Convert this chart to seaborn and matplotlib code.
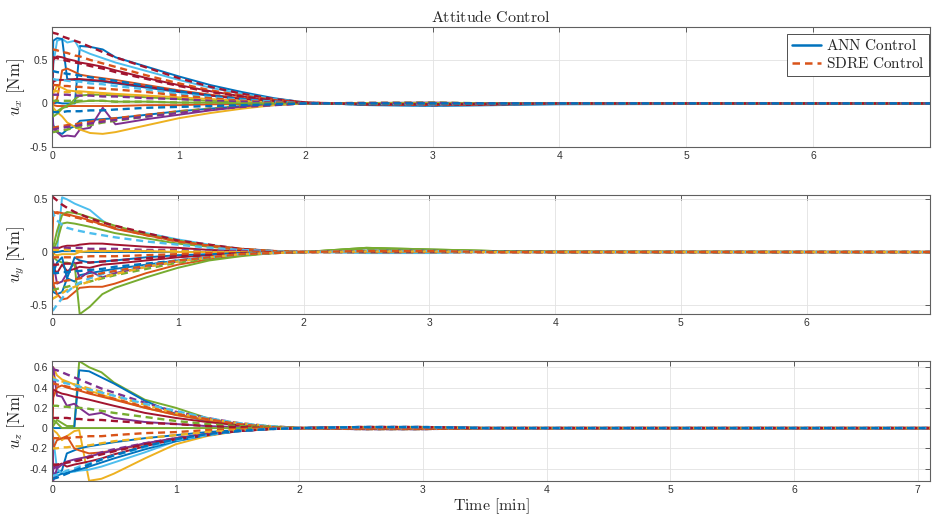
import matplotlib
matplotlib.use("Agg")
import matplotlib.pyplot as plt
from matplotlib.lines import Line2D
import seaborn as sns

# ---------------- data ----------------
T = [0, 0.01, 0.04, 0.08, 0.12, 0.18, 0.22, 0.3, 0.4, 0.5, 0.75, 1.0, 1.25,
     1.5, 1.75, 2.0, 2.5, 3.0, 3.5, 4.0, 7.2]

COL = {"B": "#0072BD", "O": "#D95319", "Y": "#EDB120", "P": "#7E2F8E",
       "G": "#77AC30", "C": "#4DBEEE", "R": "#A2142F"}

# ---- u_x ----
ux_ann_colors = ["B", "C", "B", "R", "O", "R", "G", "Y", "O", "B", "P", "Y", "G"]
ux_ann = [
    [0.0, 0.0, 0.01, 0.0, 0.0, 0.0, 0.66, 0.65, 0.62, 0.53, 0.42, 0.31, 0.21, 0.13, 0.06, 0.01, -0.02, -0.03, -0.02, -0.01, 0.0],
    [0.0, 0.45, 0.72, 0.74, 0.70, 0.72, 0.62, 0.57, 0.52, 0.47, 0.37, 0.27, 0.18, 0.11, 0.05, 0.01, -0.015, -0.025, -0.015, 0.0, 0.0],
    [0.0, 0.72, 0.75, 0.74, 0.28, 0.27, 0.27, 0.26, 0.25, 0.23, 0.18, 0.13, 0.09, 0.05, 0.02, 0.0, -0.01, -0.02, -0.01, 0.0, 0.0],
    [0.0, 0.50, 0.54, 0.53, 0.51, 0.49, 0.47, 0.45, 0.42, 0.38, 0.29, 0.21, 0.14, 0.08, 0.03, 0.005, -0.01, -0.015, -0.01, 0.0, 0.0],
    [0.0, 0.0, 0.05, 0.38, 0.40, 0.36, 0.33, 0.31, 0.29, 0.27, 0.21, 0.15, 0.10, 0.06, 0.02, 0.0, -0.01, -0.01, 0.0, 0.0, 0.0],
    [0.0, 0.25, 0.27, 0.27, 0.27, 0.28, 0.28, 0.27, 0.26, 0.24, 0.19, 0.14, 0.09, 0.05, 0.02, 0.0, -0.005, -0.01, 0.0, 0.0, 0.0],
    [0.0, -0.10, -0.09, -0.05, -0.04, 0.05, 0.09, 0.10, 0.10, 0.09, 0.07, 0.05, 0.03, 0.02, 0.01, 0.0, 0.0, -0.005, 0.0, 0.0, 0.0],
    [0.0, 0.12, 0.20, 0.18, 0.15, 0.14, 0.14, 0.13, 0.12, 0.11, 0.09, 0.07, 0.05, 0.03, 0.01, 0.0, 0.0, 0.0, 0.0, 0.0, 0.0],
    [0.0, -0.02, -0.03, -0.03, -0.03, -0.03, -0.03, -0.03, -0.03, -0.03, -0.02, -0.02, -0.01, -0.01, 0.0, 0.0, 0.0, 0.0, 0.0, 0.0, 0.0],
    [0.0, -0.25, -0.33, -0.35, -0.30, -0.26, -0.20, -0.19, -0.18, -0.17, -0.13, -0.09, -0.06, -0.03, -0.01, 0.0, 0.005, 0.005, 0.0, 0.0, 0.0],
    [0.0, -0.28, -0.33, -0.38, -0.37, -0.38, -0.30, -0.28, -0.05, -0.24, -0.18, -0.13, -0.08, -0.04, -0.02, 0.0, 0.005, 0.01, 0.0, 0.0, 0.0],
    [0.0, -0.05, -0.10, -0.15, -0.22, -0.27, -0.30, -0.34, -0.35, -0.33, -0.25, -0.17, -0.11, -0.06, -0.02, 0.0, 0.005, 0.005, 0.0, 0.0, 0.0],
    [0.0, -0.15, -0.12, -0.06, -0.02, 0.01, 0.02, 0.03, 0.03, 0.02, 0.02, 0.01, 0.01, 0.0, 0.0, 0.0, 0.0, 0.0, 0.0, 0.0, 0.0],
]
ux_sdre_colors = ["R", "O", "R", "B", "C", "O", "Y", "P", "G", "O", "G", "P", "B"]
ux_sdre = [
    [0.82, 0.81, 0.80, 0.77, 0.75, 0.72, 0.70, 0.65, 0.59, 0.53, 0.41, 0.29, 0.19, 0.11, 0.05, 0.01, -0.01, -0.02, -0.01, 0.0, 0.0],
    [0.62, 0.62, 0.61, 0.59, 0.58, 0.55, 0.54, 0.50, 0.46, 0.42, 0.32, 0.23, 0.15, 0.09, 0.04, 0.01, -0.01, -0.015, -0.01, 0.0, 0.0],
    [0.53, 0.53, 0.52, 0.50, 0.49, 0.47, 0.46, 0.43, 0.40, 0.36, 0.28, 0.20, 0.13, 0.08, 0.03, 0.005, -0.01, -0.01, -0.005, 0.0, 0.0],
    [0.37, 0.37, 0.36, 0.35, 0.34, 0.33, 0.32, 0.30, 0.28, 0.26, 0.20, 0.14, 0.09, 0.05, 0.02, 0.0, -0.01, -0.01, 0.0, 0.0, 0.0],
    [0.28, 0.28, 0.27, 0.27, 0.26, 0.25, 0.25, 0.23, 0.22, 0.20, 0.16, 0.11, 0.07, 0.04, 0.02, 0.0, -0.005, -0.01, 0.0, 0.0, 0.0],
    [0.21, 0.21, 0.21, 0.20, 0.20, 0.19, 0.19, 0.18, 0.17, 0.16, 0.13, 0.09, 0.06, 0.03, 0.01, 0.0, 0.0, -0.005, 0.0, 0.0, 0.0],
    [0.14, 0.14, 0.14, 0.13, 0.13, 0.13, 0.12, 0.12, 0.11, 0.10, 0.08, 0.06, 0.04, 0.02, 0.01, 0.0, 0.0, 0.0, 0.0, 0.0, 0.0],
    [0.10, 0.10, 0.10, 0.10, 0.10, 0.09, 0.09, 0.09, 0.08, 0.08, 0.06, 0.05, 0.03, 0.02, 0.01, 0.0, 0.0, 0.0, 0.0, 0.0, 0.0],
    [0.03, 0.03, 0.03, 0.03, 0.03, 0.03, 0.03, 0.03, 0.03, 0.02, 0.02, 0.01, 0.01, 0.0, 0.0, 0.0, 0.0, 0.0, 0.0, 0.0, 0.0],
    [-0.28, -0.28, -0.27, -0.26, -0.25, -0.24, -0.23, -0.21, -0.19, -0.17, -0.13, -0.09, -0.06, -0.03, -0.01, 0.0, 0.005, 0.005, 0.0, 0.0, 0.0],
    [-0.33, -0.33, -0.32, -0.31, -0.30, -0.28, -0.27, -0.25, -0.22, -0.20, -0.15, -0.10, -0.06, -0.03, -0.01, 0.0, 0.005, 0.01, 0.0, 0.0, 0.0],
    [-0.30, -0.30, -0.29, -0.28, -0.27, -0.26, -0.25, -0.23, -0.21, -0.19, -0.15, -0.11, -0.07, -0.04, -0.02, 0.0, 0.005, 0.005, 0.0, 0.0, 0.0],
    [-0.10, -0.10, -0.10, -0.10, -0.09, -0.09, -0.09, -0.08, -0.08, -0.07, -0.05, -0.04, -0.03, -0.02, -0.01, 0.0, 0.0, 0.0, 0.0, 0.0, 0.0],
]

# ---- u_y ----
uy_ann_colors = ["C", "O", "G", "G", "R", "B", "Y", "B", "P", "O", "G", "R", "B"]
uy_ann = [
    [0.0, 0.0, 0.02, 0.52, 0.50, 0.46, 0.44, 0.40, 0.30, 0.22, 0.18, 0.12, 0.07, 0.03, 0.01, 0.0, -0.01, -0.01, 0.0, 0.0, 0.0],
    [0.0, 0.36, 0.38, 0.37, 0.36, 0.34, 0.33, 0.30, 0.26, 0.22, 0.16, 0.10, 0.06, 0.03, 0.01, 0.0, 0.01, 0.005, 0.0, 0.0, 0.0],
    [0.0, 0.05, 0.20, 0.35, 0.38, 0.37, 0.36, 0.33, 0.29, 0.25, 0.17, 0.11, 0.06, 0.03, 0.01, 0.0, 0.04, 0.025, 0.01, 0.005, 0.0],
    [0.0, 0.02, 0.10, 0.27, 0.28, 0.27, 0.26, 0.24, 0.21, 0.18, 0.13, 0.08, 0.05, 0.02, 0.01, 0.0, 0.035, 0.02, 0.01, 0.0, 0.0],
    [0.0, -0.02, 0.03, 0.05, 0.06, 0.06, 0.07, 0.08, 0.08, 0.07, 0.05, 0.04, 0.02, 0.01, 0.0, 0.0, 0.01, 0.005, 0.0, 0.0, 0.0],
    [0.0, 0.0, 0.0, 0.01, 0.01, 0.01, 0.0, 0.0, 0.0, 0.0, 0.0, 0.0, 0.0, 0.0, 0.0, 0.0, 0.0, 0.0, 0.0, 0.0, 0.0],
    [0.0, -0.02, -0.03, -0.02, -0.02, -0.02, 0.0, 0.01, 0.01, 0.01, 0.01, 0.0, 0.0, 0.0, 0.0, 0.0, 0.0, 0.0, 0.0, 0.0, 0.0],
    [0.0, -0.38, -0.40, -0.38, -0.25, -0.28, -0.22, -0.20, -0.18, -0.16, -0.12, -0.08, -0.05, -0.02, -0.01, 0.0, 0.005, 0.005, 0.0, 0.0, 0.0],
    [0.0, -0.10, -0.30, -0.28, -0.20, -0.10, -0.25, -0.18, -0.24, -0.20, -0.14, -0.09, -0.05, -0.02, -0.01, 0.0, 0.01, 0.005, 0.0, 0.0, 0.0],
    [0.0, -0.30, -0.40, -0.45, -0.44, -0.38, -0.34, -0.33, -0.33, -0.30, -0.20, -0.12, -0.07, -0.03, -0.01, 0.0, 0.0, 0.0, 0.0, 0.0, 0.0],
    [0.0, -0.05, -0.08, -0.10, -0.10, -0.12, -0.59, -0.52, -0.40, -0.34, -0.24, -0.15, -0.08, -0.04, -0.01, 0.0, 0.04, 0.025, 0.01, 0.005, 0.0],
    [0.0, -0.15, -0.20, -0.12, -0.18, -0.16, -0.14, -0.15, -0.12, -0.11, -0.08, -0.05, -0.03, -0.01, 0.0, 0.0, 0.0, 0.0, 0.0, 0.0, 0.0],
    [0.0, -0.20, -0.10, -0.05, -0.25, -0.05, -0.08, -0.10, -0.09, -0.08, -0.05, -0.03, -0.02, -0.01, 0.0, 0.0, 0.0, 0.0, 0.0, 0.0, 0.0],
]
uy_sdre_colors = ["R", "O", "C", "P", "Y", "O", "R", "B", "G", "Y", "C", "O"]
uy_sdre = [
    [0.53, 0.52, 0.49, 0.45, 0.42, 0.38, 0.36, 0.32, 0.28, 0.25, 0.18, 0.11, 0.07, 0.03, 0.01, 0.0, 0.01, 0.01, 0.005, 0.0, 0.0],
    [0.38, 0.38, 0.37, 0.36, 0.35, 0.33, 0.32, 0.29, 0.26, 0.23, 0.16, 0.10, 0.06, 0.03, 0.01, 0.0, 0.005, 0.005, 0.0, 0.0, 0.0],
    [0.40, 0.36, 0.30, 0.26, 0.23, 0.21, 0.20, 0.18, 0.16, 0.14, 0.10, 0.07, 0.04, 0.02, 0.01, 0.0, 0.01, 0.01, 0.0, 0.0, 0.0],
    [0.04, 0.04, 0.04, 0.04, 0.04, 0.04, 0.04, 0.03, 0.03, 0.03, 0.02, 0.02, 0.01, 0.01, 0.0, 0.0, 0.0, 0.0, 0.0, 0.0, 0.0],
    [0.02, 0.02, 0.02, 0.02, 0.02, 0.01, 0.01, 0.01, 0.01, 0.01, 0.01, 0.01, 0.0, 0.0, 0.0, 0.0, 0.0, 0.0, 0.0, 0.0, 0.0],
    [-0.05, -0.05, -0.05, -0.05, -0.05, -0.05, -0.05, -0.04, -0.04, -0.04, -0.03, -0.02, -0.01, -0.01, 0.0, 0.0, 0.0, 0.0, 0.0, 0.0, 0.0],
    [-0.12, -0.12, -0.12, -0.11, -0.11, -0.11, -0.10, -0.10, -0.09, -0.08, -0.06, -0.04, -0.03, -0.01, -0.005, 0.0, 0.005, 0.005, 0.0, 0.0, 0.0],
    [-0.20, -0.20, -0.20, -0.19, -0.19, -0.18, -0.18, -0.17, -0.16, -0.14, -0.11, -0.08, -0.05, -0.02, -0.01, 0.0, 0.01, 0.01, 0.005, 0.0, 0.0],
    [-0.36, -0.36, -0.35, -0.34, -0.33, -0.31, -0.30, -0.28, -0.25, -0.22, -0.16, -0.10, -0.06, -0.03, -0.01, 0.0, 0.02, 0.015, 0.005, 0.0, 0.0],
    [-0.45, -0.44, -0.42, -0.39, -0.36, -0.33, -0.31, -0.28, -0.24, -0.21, -0.14, -0.09, -0.05, -0.02, -0.01, 0.0, 0.005, 0.005, 0.0, 0.0, 0.0],
    [-0.56, -0.55, -0.50, -0.44, -0.38, -0.32, -0.29, -0.25, -0.21, -0.18, -0.13, -0.08, -0.05, -0.02, -0.01, 0.0, 0.01, 0.01, 0.0, 0.0, 0.0],
    [-0.30, -0.30, -0.29, -0.28, -0.27, -0.26, -0.25, -0.23, -0.20, -0.18, -0.13, -0.08, -0.05, -0.02, -0.01, 0.0, 0.01, 0.01, 0.0, 0.0, 0.0],
]

# ---- u_z ----
uz_ann_colors = ["G", "B", "Y", "P", "O", "R", "G", "Y", "B", "C", "R", "O", "B", "P"]
uz_ann = [
    [0.0, 0.02, 0.08, 0.05, 0.02, 0.02, 0.66, 0.60, 0.55, 0.45, 0.28, 0.20, 0.10, 0.04, 0.02, 0.0, 0.0, -0.01, 0.0, 0.0, 0.0],
    [0.0, 0.0, 0.0, 0.0, 0.0, 0.0, 0.57, 0.56, 0.50, 0.44, 0.27, 0.14, 0.07, 0.03, 0.01, 0.0, -0.01, -0.01, 0.0, 0.0, 0.0],
    [0.0, 0.60, 0.52, 0.48, 0.46, 0.43, 0.41, 0.37, 0.33, 0.29, 0.20, 0.13, 0.08, 0.04, 0.01, 0.0, -0.01, -0.01, 0.0, 0.0, 0.0],
    [0.0, 0.60, 0.32, 0.31, 0.22, 0.24, 0.20, 0.13, 0.15, 0.10, 0.06, 0.04, 0.02, 0.01, 0.0, 0.0, 0.0, 0.0, 0.0, 0.0, 0.0],
    [0.0, 0.30, 0.40, 0.42, 0.40, 0.38, 0.37, 0.34, 0.31, 0.28, 0.20, 0.13, 0.08, 0.04, 0.01, 0.0, -0.01, -0.01, 0.0, 0.0, 0.0],
    [0.0, 0.38, 0.36, 0.34, 0.33, 0.31, 0.30, 0.28, 0.25, 0.22, 0.15, 0.10, 0.06, 0.03, 0.01, 0.0, 0.0, 0.0, 0.0, 0.0, 0.0],
    [0.0, 0.08, 0.05, 0.0, 0.0, 0.0, 0.0, 0.0, 0.0, 0.0, 0.0, 0.0, 0.0, 0.0, 0.0, 0.0, 0.0, 0.0, 0.0, 0.0, 0.0],
    [0.0, -0.02, -0.05, -0.12, -0.08, -0.03, -0.02, -0.52, -0.50, -0.45, -0.30, -0.16, -0.08, -0.03, -0.01, 0.0, 0.01, 0.01, 0.0, 0.0, 0.0],
    [0.0, -0.45, -0.44, -0.42, -0.25, -0.22, -0.20, -0.18, -0.16, -0.14, -0.10, -0.07, -0.04, -0.02, -0.01, 0.0, 0.01, 0.01, 0.0, 0.0, 0.0],
    [0.0, -0.10, -0.40, -0.45, -0.44, -0.43, -0.42, -0.41, -0.38, -0.34, -0.24, -0.13, -0.07, -0.03, -0.01, 0.0, 0.01, 0.01, 0.0, 0.0, 0.0],
    [0.0, -0.38, -0.37, -0.35, -0.38, -0.36, -0.35, -0.33, -0.30, -0.26, -0.18, -0.11, -0.06, -0.03, -0.01, 0.0, 0.01, 0.01, 0.0, 0.0, 0.0],
    [0.0, -0.20, -0.12, -0.10, -0.08, -0.20, -0.22, -0.25, -0.24, -0.22, -0.16, -0.10, -0.06, -0.03, -0.01, 0.0, 0.0, 0.0, 0.0, 0.0, 0.0],
    [-0.50, -0.50, -0.47, -0.45, -0.44, -0.42, -0.41, -0.38, -0.34, -0.30, -0.21, -0.13, -0.07, -0.03, -0.01, 0.0, 0.01, 0.01, 0.0, 0.0, 0.0],
    [0.0, -0.52, -0.40, -0.36, -0.33, -0.31, -0.30, -0.28, -0.25, -0.22, -0.15, -0.10, -0.06, -0.03, -0.01, 0.0, 0.0, 0.0, 0.0, 0.0, 0.0],
]
uz_sdre_colors = ["P", "Y", "C", "O", "G", "R", "O", "Y", "P", "R", "C", "B"]
uz_sdre = [
    [0.58, 0.58, 0.57, 0.55, 0.53, 0.50, 0.48, 0.44, 0.39, 0.35, 0.25, 0.16, 0.10, 0.05, 0.02, 0.0, -0.01, -0.01, 0.0, 0.0, 0.0],
    [0.52, 0.50, 0.47, 0.46, 0.45, 0.43, 0.42, 0.39, 0.36, 0.32, 0.23, 0.15, 0.09, 0.05, 0.02, 0.0, 0.0, -0.005, 0.0, 0.0, 0.0],
    [0.48, 0.48, 0.47, 0.45, 0.44, 0.42, 0.41, 0.38, 0.35, 0.32, 0.24, 0.17, 0.10, 0.05, 0.02, 0.0, -0.01, -0.01, 0.0, 0.0, 0.0],
    [0.44, 0.44, 0.43, 0.42, 0.41, 0.39, 0.38, 0.35, 0.32, 0.29, 0.21, 0.14, 0.09, 0.04, 0.01, 0.0, -0.01, -0.01, 0.0, 0.0, 0.0],
    [0.22, 0.22, 0.22, 0.21, 0.21, 0.20, 0.20, 0.19, 0.17, 0.15, 0.11, 0.07, 0.04, 0.02, 0.01, 0.0, 0.0, 0.0, 0.0, 0.0, 0.0],
    [0.10, 0.10, 0.10, 0.10, 0.10, 0.09, 0.09, 0.08, 0.08, 0.07, 0.05, 0.04, 0.02, 0.01, 0.0, 0.0, 0.0, 0.0, 0.0, 0.0, 0.0],
    [-0.10, -0.10, -0.10, -0.10, -0.10, -0.09, -0.09, -0.08, -0.08, -0.07, -0.05, -0.04, -0.02, -0.01, 0.0, 0.0, 0.0, 0.0, 0.0, 0.0, 0.0],
    [-0.20, -0.20, -0.20, -0.19, -0.19, -0.18, -0.18, -0.17, -0.15, -0.13, -0.10, -0.07, -0.04, -0.02, -0.01, 0.0, 0.01, 0.01, 0.0, 0.0, 0.0],
    [-0.40, -0.40, -0.38, -0.36, -0.34, -0.32, -0.31, -0.28, -0.24, -0.21, -0.15, -0.10, -0.06, -0.03, -0.01, 0.0, 0.01, 0.01, 0.0, 0.0, 0.0],
    [-0.36, -0.36, -0.36, -0.35, -0.34, -0.33, -0.32, -0.29, -0.26, -0.23, -0.16, -0.11, -0.07, -0.03, -0.01, 0.0, 0.01, 0.01, 0.0, 0.0, 0.0],
    [-0.48, -0.47, -0.46, -0.44, -0.42, -0.40, -0.38, -0.35, -0.31, -0.27, -0.19, -0.12, -0.07, -0.03, -0.01, 0.0, 0.01, 0.01, 0.0, 0.0, 0.0],
    [-0.50, -0.50, -0.49, -0.47, -0.45, -0.42, -0.40, -0.36, -0.31, -0.27, -0.18, -0.11, -0.06, -0.03, -0.01, 0.0, 0.01, 0.01, 0.0, 0.0, 0.0],
]

# axis texts / ticks
title_text = r"$\mathrm{Attitude\ Control}$"
xlabel_text = r"$\mathrm{Time\ [min]}$"
ylabels = [r"$u_x\ [\mathrm{Nm}]$", r"$u_y\ [\mathrm{Nm}]$", r"$u_z\ [\mathrm{Nm}]$"]
legend_labels = [r"$\mathrm{ANN\ Control}$", r"$\mathrm{SDRE\ Control}$"]
xticks_top = [0, 1, 2, 3, 4, 5, 6]
xticks_bot = [0, 1, 2, 3, 4, 5, 6, 7]
yticks_x = [-0.5, 0, 0.5]
yticklabels_x = ["-0.5", "0", "0.5"]
yticks_y = [-0.5, 0, 0.5]
yticklabels_y = ["-0.5", "0", "0.5"]
yticks_z = [-0.4, -0.2, 0, 0.2, 0.4, 0.6]
yticklabels_z = ["-0.4", "-0.2", "0", "0.2", "0.4", "0.6"]

# ---------------- style ----------------
sns.set_style("white")
plt.rcParams["font.family"] = ["Liberation Sans", "DejaVu Sans"]
plt.rcParams["mathtext.fontset"] = "cm"

fig = plt.figure(figsize=(9.32, 5.21), dpi=100)
L, W = 0.0558, 0.942
ax1 = fig.add_axes([L, 0.718, W, 0.230])
ax2 = fig.add_axes([L, 0.397, W, 0.229])
ax3 = fig.add_axes([L, 0.0768, W, 0.230])

panels = [
    (ax1, ux_ann, ux_ann_colors, ux_sdre, ux_sdre_colors, (0, 6.92), (-0.5, 0.877), xticks_top, yticks_x, yticklabels_x),
    (ax2, uy_ann, uy_ann_colors, uy_sdre, uy_sdre_colors, (0, 6.98), (-0.59, 0.543), xticks_top, yticks_y, yticklabels_y),
    (ax3, uz_ann, uz_ann_colors, uz_sdre, uz_sdre_colors, (0, 7.1), (-0.522, 0.66), xticks_bot, yticks_z, yticklabels_z),
]

for i, (ax, ann, annc, sdre, sdrec, xl, yl, xt, yt, ytl) in enumerate(panels):
    for vals, c in zip(ann, annc):
        sns.lineplot(x=T, y=vals, ax=ax, color=COL[c], lw=1.4, sort=False,
                     estimator=None, legend=False)
    for vals, c in zip(sdre, sdrec):
        sns.lineplot(x=T, y=vals, ax=ax, color=COL[c], lw=1.7, sort=False,
                     estimator=None, legend=False, dashes=False)
        ax.lines[-1].set_dashes((3, 2))
    ax.set_xlim(*xl)
    ax.set_ylim(*yl)
    ax.set_xticks(xt)
    ax.set_xticklabels([str(v) for v in xt])
    ax.set_yticks(yt)
    ax.set_yticklabels(ytl)
    ax.grid(True, color="#e2e2e2", lw=0.6)
    ax.set_axisbelow(True)
    ax.tick_params(direction="in", top=True, right=True, length=3.5,
                   width=0.6, color="#444444", labelsize=7.5,
                   labelcolor="#333333", pad=3)
    for sp in ax.spines.values():
        sp.set_color("#606060")
        sp.set_linewidth(0.8)
    ax.set_xlabel("")
    ax.set_ylabel(ylabels[i], fontsize=12)
    ax.yaxis.set_label_coords(-0.029, 0.5)

ax1.set_title(title_text, fontsize=11.5, pad=4)
ax3.set_xlabel(xlabel_text, fontsize=11.5, labelpad=1)

handles = [Line2D([0], [0], color=COL["B"], lw=1.8),
           Line2D([0], [0], color=COL["O"], lw=1.8, dashes=(3, 2))]
leg = ax1.legend(handles, legend_labels, loc="upper right",
                 bbox_to_anchor=(0.999, 0.945), fontsize=11, frameon=True,
                 fancybox=False, edgecolor="#333333", framealpha=1,
                 borderpad=0.3, labelspacing=0.2, handlelength=1.9,
                 handletextpad=0.3, borderaxespad=0)
leg.get_frame().set_linewidth(0.6)

fig.savefig("out.png", dpi=100)
